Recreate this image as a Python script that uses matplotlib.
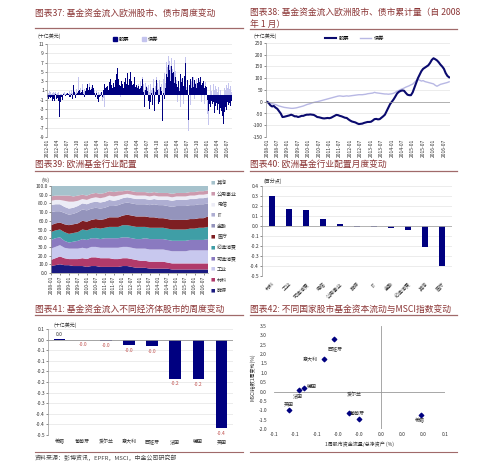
import numpy as np
import matplotlib
matplotlib.use("Agg")
import matplotlib.pyplot as plt
from matplotlib.lines import Line2D
from matplotlib.patches import Patch

plt.rcParams['font.family'] = ['Noto Sans CJK SC', 'DejaVu Sans']
plt.rcParams['axes.unicode_minus'] = False

# ---------- 图表37: 周度资金流 (十亿美元), 2012-01 起每周 ----------
stock_week = [
    -0.5, -0.8, -0.3, -1.0, -0.6, -0.4, -1.2, -0.8, -0.5, -1.3, 0.3, -0.9, -1.1,
    -0.7, -1.2, -4.6, 2.8, -1.5, -0.3, -1.0, 0.2, -0.5, 0.1, -0.2, 0.3, -0.6,
    0.4, 0.2, -0.3, 0.4, -0.5, 0.3, -0.8, -1.0, 2.1, 0.6, -0.6, 0.2, 1.2,
    0.5, 0.8, 1.0, -1.3, 0.4, 0.6, 1.1, 0.7, 0.3, -0.4, 0.9, 1.5, 0.6,
    2.3, 1.2, 1.8, 2.5, 1.0, 1.4, 2.2, 0.8, 1.6, 0.4, -0.3, 0.5, -0.6,
    -0.8, -1.5, -0.4, 0.3, -0.2, 0.6, -0.5, 0.4, 1.2, 2.3, 1.5, 2.6, 1.8,
    2.0, 1.2, 2.8, 1.6, 3.4, 2.1, 1.5, 4.0, 2.6, 1.8, 3.2, 2.4, 4.5,
    5.8, 3.5, 2.2, 4.6, 1.9, 3.1, 2.4, 4.2, 1.5, 2.8, 3.6, 1.2, 2.5,
    4.8, 2.2, 3.5, 1.4, 4.9, 3.0, 2.1, 1.6, 2.5, 3.8, 1.8, 1.2, 2.2,
    1.5, 2.0, 1.3, 2.4, 1.6, 1.9, 3.5, 1.0, 0.6, -2.5, 1.2, -0.4, 1.8,
    0.8, -1.2, -0.6, -3.0, -1.5, 0.5, -2.2, -1.0, 1.6, -3.5, 0.6, -6.3, 3.2,
    1.2, -2.0, 0.4, -1.5, 1.8, 0.8, -5.5, 1.5, 0.5, -0.8, 1.6, 2.8, 4.5,
    3.8, 6.5, 4.2, 5.5, 3.0, 6.2, 4.8, 3.5, 5.0, 2.6, 4.0, 3.2, 2.4,
    1.8, 3.0, 2.2, 0.8, 4.5, 2.8, 1.5, 3.6, 2.0, 4.2, 7.0, 2.5, 1.2,
    3.2, -5.3, 4.6, 2.2, 3.5, 1.6, 2.8, 4.0, 1.8, 3.3, 2.4, 3.9, 1.5,
    2.6, 3.6, 1.9, 2.9, 3.8, 2.2, 1.4, 2.7, 3.1, 1.6, 2.0, 0.9, 1.8,
    -1.0, -3.5, 1.2, -1.8, -2.6, -1.2, -0.8, -2.0, -1.5, -3.8, -1.0, -2.4, -1.7,
    -3.2, -2.0, -1.2, -4.0, -2.8, -3.5, -5.2, -4.4, -6.2, -3.6, -4.8, -2.5, -3.2,
    -1.5, -2.2, -0.8, -1.6, -2.4, -1.2,
]
bond_week = [
    0.3, 0.5, 0.8, 0.4, 0.6, 0.2, 0.5, 0.7, 0.3, 0.4, 0.6, 0.2, 0.5,
    0.4, 0.6, -0.3, 0.5, 0.3, 0.2, -0.4, 0.5, 0.3, 0.6, 0.2, 0.4, 0.7,
    0.5, 0.3, 0.8, 0.6, 0.4, 1.0, 0.5, 0.3, 1.2, 0.8, 0.5, 1.4, 0.9,
    0.6, 4.0, 1.2, 0.8, 1.5, 0.6, 2.5, 1.0, 0.7, 1.3, 0.5, 0.9, 2.0,
    1.5, 0.8, 2.6, 1.2, 0.6, 1.8, 0.9, 1.4, 0.5, 1.0, 0.3, 0.8, 0.4,
    -0.5, 0.6, 0.3, -0.8, 0.4, 0.2, -1.2, 0.5, -0.6, -2.5, 0.4, 0.8, 0.3,
    0.6, 0.4, 0.9, 0.5, 1.2, 0.7, 0.3, 1.0, 0.5, 0.8, 0.6, 1.1, 0.4,
    0.7, 0.5, 0.3, 0.9, -0.4, 0.6, 0.8, 0.4, 0.5, 0.7, 0.3, 0.9, 0.6,
    0.8, 0.5, 1.2, 0.7, 0.9, 1.4, 0.6, 1.0, 0.8, 1.5, 1.1, 0.7, 2.2,
    1.8, 2.4, 1.2, 2.0, 3.0, 1.5, 3.8, 1.6, 2.5, 1.2, 2.6, 1.4, 2.0,
    1.5, 2.2, 1.8, 0.6, 2.4, 1.0, 1.6, 2.8, 3.5, 0.8, 2.0, 1.2, 3.8,
    2.6, 1.4, 2.0, 3.2, 1.6, 2.4, -1.5, 2.0, 3.5, 4.8, 2.6, 5.5, 7.2,
    6.0, 8.5, 9.8, 7.4, 6.2, 8.0, 5.6, 6.8, 4.5, 7.6, 5.2, 4.0, 3.2,
    -1.5, 2.0, -3.0, 1.5, -2.5, 3.5, -4.0, 2.2, -2.0, 1.2, 8.2, -3.2, 1.8,
    2.5, -7.8, -3.5, 1.0, -2.2, 3.0, -1.5, 2.0, 4.0, -0.8, 2.6, 1.2, 3.4,
    1.8, 2.5, -0.6, 3.2, 1.4, -1.5, 2.2, 0.8, 1.6, -2.0, 2.8, 1.2, 0.6,
    -4.0, -6.5, 1.5, -2.0, 2.2, 0.8, 1.6, -1.0, 2.5, 1.2, -0.8, 2.0, 1.4,
    0.6, 1.8, 2.4, -2.2, 1.2, -3.0, -7.0, -4.5, -2.0, 1.5, 2.5, 1.0, 2.2,
    1.6, 2.6, 0.8, 1.4, 2.0, 0.6,
]
week_ticks = ['2012-01', '2012-04', '2012-07', '2012-10', '2013-01', '2013-04', '2013-07',
              '2013-10', '2014-01', '2014-04', '2014-07', '2014-10', '2015-01', '2015-04',
              '2015-07', '2015-10', '2016-01', '2016-04', '2016-07']

# ---------- 图表38: 累计量 (十亿美元), 2008-01 起每月 ----------
stock_cum = [
    0, -5, -15, -20, -18, -25, -30, -40, -50, -65, -64, -62,
    -60, -58, -55, -58, -62, -62, -65, -63, -60, -60, -57, -55,
    -55, -54, -55, -56, -60, -65, -66, -68, -70, -71, -70, -69,
    -70, -68, -64, -60, -56, -57, -60, -62, -65, -68, -69, -75,
    -80, -84, -86, -88, -92, -95, -94, -93, -90, -88, -86, -86,
    -85, -80, -74, -73, -75, -74, -68, -62, -55, -40, -25, -10,
    0, 10, 22, 35, 42, 46, 48, 47, 38, 30, 28, 28,
    40, 60, 80, 100, 115, 130, 140, 145, 150, 155, 165, 178,
    185, 181, 176, 168, 158, 150, 140, 122, 110, 104,
]
bond_cum = [
    0, -2, -5, -8, -10, -12, -15, -18, -20, -22, -24, -25,
    -26, -27, -28, -28, -27, -26, -24, -22, -20, -18, -15, -12,
    -10, -8, -5, -3, -1, 0, 2, 4, 6, 8, 10, 12,
    14, 16, 18, 20, 22, 24, 25, 24, 23, 24, 25, 24,
    25, 26, 27, 28, 29, 30, 30, 30, 31, 32, 34, 35,
    36, 37, 40, 38, 37, 36, 35, 34, 33, 33, 32, 33,
    34, 36, 40, 45, 48, 52, 55, 58, 62, 65, 68, 72,
    75, 82, 90, 95, 92, 88, 90, 86, 84, 82, 80, 78,
    76, 70, 66, 70, 74, 76, 78, 80, 82, 85,
]
month_ticks = ['2008-01', '2008-07', '2009-01', '2009-07', '2010-01', '2010-07', '2011-01',
               '2011-07', '2012-01', '2012-07', '2013-01', '2013-07', '2014-01', '2014-07',
               '2015-01', '2015-07', '2016-01', '2016-07']

# ---------- 图表39: 行业配置 (%), 每季度 ----------
sectors = ['能源', '材料', '工业', '可选消费', '必选消费', '医疗', '金融', 'IT', '电信', '公用事业', '其他']
energy = [8, 9, 10, 9, 9, 8, 8, 8, 7, 8, 8, 7, 7, 7, 7, 7, 8, 8, 7, 6, 6, 6, 5, 5, 5, 5, 5, 4, 4, 4, 4, 4, 4, 4, 4, 4]
materials = [7, 8, 9, 8, 7, 8, 8, 9, 9, 10, 10, 10, 10, 10, 9, 9, 9, 9, 9, 9, 8, 8, 8, 8, 8, 8, 7, 7, 7, 7, 7, 7, 7, 7, 7, 7]
industrials = [13, 13, 13, 12, 12, 12, 12, 12, 12, 12, 12, 12, 12, 12, 13, 13, 13, 13, 13, 13, 14, 14, 14, 14, 14, 14, 14, 14, 14, 14, 14, 15, 15, 15, 15, 15]
cons_disc = [10, 10, 9, 8, 7, 8, 9, 10, 10, 10, 10, 10, 11, 11, 11, 11, 11, 11, 11, 11, 11, 12, 12, 12, 12, 12, 12, 12, 12, 12, 12, 12, 12, 12, 12, 13]
cons_staples = [9, 9, 9, 10, 10, 10, 10, 11, 11, 11, 12, 12, 12, 13, 13, 13, 14, 14, 14, 14, 14, 13, 13, 13, 13, 13, 13, 13, 13, 13, 13, 13, 13, 14, 14, 14]
health = [8, 8, 8, 9, 10, 10, 10, 10, 10, 10, 10, 10, 10, 11, 11, 11, 11, 12, 12, 12, 12, 12, 12, 12, 11, 11, 11, 11, 11, 11, 11, 11, 11, 11, 11, 12]
financials = [15, 14, 13, 13, 12, 12, 13, 13, 13, 13, 13, 13, 13, 13, 13, 14, 14, 14, 14, 14, 14, 14, 14, 15, 15, 15, 15, 15, 16, 16, 16, 16, 16, 16, 16, 15]
info_tech = [8, 8, 8, 7, 7, 7, 7, 7, 7, 7, 7, 7, 7, 7, 6, 6, 6, 6, 6, 6, 6, 6, 6, 6, 6, 6, 7, 7, 7, 7, 7, 7, 7, 7, 7, 7]
telecom = [5, 5, 5, 7, 8, 7, 6, 5, 5, 5, 5, 5, 5, 5, 5, 5, 4, 4, 4, 4, 4, 4, 4, 4, 4, 4, 4, 4, 4, 4, 4, 4, 4, 4, 4, 4]
utilities = [5, 5, 5, 6, 7, 6, 6, 5, 5, 5, 5, 5, 5, 5, 5, 5, 4, 4, 4, 4, 4, 4, 4, 4, 4, 4, 4, 4, 4, 4, 4, 4, 4, 4, 4, 4]
sector_colors = ['#1a1a80', '#b03a6a', '#c8c8ee', '#8a7ac0', '#3f9ea6', '#7e1e22',
                 '#9494bc', '#aeaed2', '#ececf6', '#cc9aae', '#a6c2cc']

# ---------- 图表40: 行业配置月度变动 (百分点) ----------
chg_cats = ['材料', '工业', '可选消费', '电信', '公用事业', '能源', 'IT', '金融', '必选消费', '其他', '医疗']
chg_vals = [0.30, 0.17, 0.155, 0.07, 0.02, -0.01, -0.015, -0.02, -0.045, -0.215, -0.40]

# ---------- 图表41: 不同经济体周度变动 (十亿美元) ----------
ctry = ['希腊', '葡萄牙', '爱尔兰', '意大利', '西班牙', '法国', '德国', '英国']
ctry_flow = [0.001, -0.001, -0.005, -0.027, -0.031, -0.184, -0.186, -0.417]
ctry_text = ['0.0', '-0.0', '-0.0', '-0.0', '-0.0', '-0.2', '-0.2', '-0.4']

# ---------- 图表42: 资金流量/总净资产 vs MSCI 1周变动 ----------
sc_names = ['西班牙', '意大利', '德国', '法国', '英国', '葡萄牙', '爱尔兰', '希腊']
sc_x = [-0.0443, -0.0536, -0.0722, -0.0769, -0.0862, -0.0295, -0.0208, 0.0372]
sc_y = [2.82, 1.76, 0.21, 0.07, -0.99, -1.17, -1.45, -1.26]

NAVY = '#000080'
LIGHT = '#c4c4ee'
NEG = '#c0504d'
TITLE = '#8b3535'
RULE = '#a06a6a'
GRID = '#dddddd'
TS = 3.6

W, H = 500, 469
fig = plt.figure(figsize=(5, 4.69), dpi=100)


def px_axes(x0, y0, x1, y1):
    return fig.add_axes([x0 / W, 1 - y1 / H, (x1 - x0) / W, (y1 - y0) / H])


def title(x, y, s):
    fig.text(x / W, 1 - y / H, s, fontsize=6.3, color=TITLE, style='italic', va='center', ha='left')


def rule(x0, x1, y, lw=0.9):
    fig.add_artist(Line2D([x0 / W, x1 / W], [1 - y / H, 1 - y / H], color=RULE, lw=lw))


def ftext(x, y, s, **kw):
    kw.setdefault('fontsize', TS)
    kw.setdefault('color', '#333333')
    fig.text(x / W, 1 - y / H, s, va='center', **kw)


def style(ax, grid=True):
    ax.tick_params(labelsize=TS, length=1.2, width=0.4, pad=1, colors='#333333')
    for s in ['top', 'right']:
        ax.spines[s].set_visible(False)
    for s in ['left', 'bottom']:
        ax.spines[s].set_color('#999999')
        ax.spines[s].set_linewidth(0.5)
    if grid:
        ax.yaxis.grid(True, color=GRID, lw=0.4)
        ax.set_axisbelow(True)


def yticks(ax, vals, labels):
    ax.set_yticks(vals)
    labs = ax.set_yticklabels(labels)
    for lab, v in zip(labs, vals):
        if v < 0:
            lab.set_color(NEG)


# ---- 图表37 ----
title(35, 13, '图表37: 基金资金流入欧洲股市、债市周度变动')
rule(35, 243, 28)
ax = px_axes(47, 44, 232, 137)
wk = np.arange(len(stock_week))
ax.bar(wk, bond_week, width=1.0, color=LIGHT, linewidth=0)
ax.bar(wk, stock_week, width=1.0, color=NAVY, linewidth=0)
ax.set_xlim(-1, len(wk))
ax.set_ylim(-9, 11)
yt = list(range(-9, 12, 2))
yticks(ax, yt, [str(v) for v in yt])
ax.set_xticks(np.arange(0, len(wk), 13)[:len(week_ticks)])
ax.set_xticklabels(week_ticks, rotation=90)
style(ax)
ax.spines['bottom'].set_visible(False)
ax.tick_params(axis='x', length=0)
ax.legend(handles=[Patch(color=NAVY, label='股票'), Patch(color=LIGHT, label='债券')],
          ncol=2, loc='lower center', bbox_to_anchor=(0.48, 0.97), fontsize=3.8, frameon=False,
          handlelength=0.7, handleheight=0.7, columnspacing=2.5, handletextpad=0.3)
ftext(37, 36, '(十亿美元)')

# ---- 图表38 ----
title(250, 12, '图表38: 基金资金流入欧洲股市、债市累计量（自 2008')
title(250, 24, '年 1 月）')
rule(250, 457, 29)
ax = px_axes(266, 43, 450, 137)
mo = np.arange(len(stock_cum))
ax.plot(mo, bond_cum, color='#b8b8e4', lw=1.0)
ax.plot(mo, stock_cum, color='#0a0a6e', lw=1.5)
ax.set_xlim(-0.5, len(mo) - 0.5)
ax.set_ylim(-150, 250)
yt = list(range(-150, 251, 50))
yticks(ax, yt, [str(v) for v in yt])
ax.set_xticks(np.arange(0, len(mo), 6)[:len(month_ticks)])
ax.set_xticklabels(month_ticks, rotation=90)
style(ax)
ax.spines['bottom'].set_visible(False)
ax.axhline(0, color='#999999', lw=0.5)
ax.tick_params(axis='x', length=0)
ax.legend(handles=[Line2D([], [], color='#0a0a6e', lw=1.5, label='股票'),
                   Line2D([], [], color='#b8b8e4', lw=1.0, label='债券')],
          ncol=2, loc='lower center', bbox_to_anchor=(0.48, 0.97), fontsize=3.8, frameon=False,
          handlelength=2.2, columnspacing=2.0, handletextpad=0.4)
ftext(253, 36, '(十亿美元)')

# ---- 图表39 ----
title(35, 164, '图表39: 欧洲基金行业配置')
rule(35, 243, 171)
ax = px_axes(51, 186, 208, 273)
qx = np.arange(len(energy)) * 3
parts = [energy, materials, industrials, cons_disc, cons_staples, health,
         financials, info_tech, telecom, utilities]
other = 100 - np.sum(np.array(parts), axis=0)
ax.stackplot(qx, *parts, other, colors=sector_colors, linewidth=0)
ax.set_xlim(0, qx[-1])
ax.set_ylim(0, 100)
yt = list(range(0, 101, 10))
yticks(ax, yt, ['%.1f' % v for v in yt])
ax.set_xticks(np.arange(0, 103, 6))
ax.set_xticklabels(month_ticks, rotation=90)
style(ax, grid=False)
ftext(42, 180, '(%)')
for i, (name, c) in enumerate(zip(sectors[::-1], sector_colors[::-1])):
    y = 183 + i * 10.8
    ftext(211, y, '■', color=c, fontsize=3.2)
    ftext(217, y, name)

# ---- 图表40 ----
title(250, 164, '图表40: 欧洲基金行业配置月度变动')
rule(250, 457, 171)
ax = px_axes(262, 186, 452, 276)
xc = np.arange(len(chg_cats))
ax.bar(xc, chg_vals, width=0.38, color=NAVY)
ax.set_xlim(-0.6, len(xc) - 0.4)
ax.set_ylim(-0.5, 0.4)
yt = [0.4, 0.3, 0.2, 0.1, 0.0, -0.1, -0.2, -0.3, -0.4, -0.5]
yticks(ax, yt, ['%.1f' % v for v in yt])
ax.set_xticks(xc)
ax.set_xticklabels(chg_cats, rotation=45, ha='right', rotation_mode='anchor')
style(ax)
ax.spines['bottom'].set_visible(False)
ax.axhline(0, color='#aaaaaa', lw=0.6)
ax.tick_params(axis='x', length=0, pad=4)
ftext(263, 181, '(百分点)')

# ---- 图表41 ----
title(35, 309, '图表41: 基金资金流入不同经济体股市的周度变动')
rule(35, 243, 315)
ax = px_axes(48, 329, 233, 435)
xc = np.arange(len(ctry))
ax.bar(xc, ctry_flow, width=0.5, color=NAVY)
for x, v, t in zip(xc, ctry_flow, ctry_text):
    if v >= 0:
        ax.text(x, v + 0.012, t, ha='center', va='bottom', fontsize=TS, color='#333333')
    else:
        ax.text(x, v - 0.012, t, ha='center', va='top', fontsize=TS, color=NEG)
ax.set_xlim(-0.5, len(xc) - 0.5)
ax.set_ylim(-0.45, 0.05)
yt = [0.05, 0.0, -0.05, -0.1, -0.15, -0.2, -0.25, -0.3, -0.35, -0.4, -0.45]
yticks(ax, yt, ['0.1', '0.0', '-0.1', '-0.1', '-0.2', '-0.2', '-0.3', '-0.3', '-0.4', '-0.4', '-0.5'])
ax.set_xticks(xc)
ax.set_xticklabels(ctry)
style(ax)
ax.spines['bottom'].set_visible(False)
ax.axhline(0, color='#999999', lw=0.6)
ax.tick_params(axis='x', length=0, pad=3)
ftext(53, 325, '(十亿美元)')
rule(35, 243, 452, lw=0.8)
ftext(35, 458, '资料来源：彭博资讯，EPFR，MSCI，中金公司研究部', fontsize=4.3, style='italic', color='#444444')

# ---- 图表42 ----
title(250, 309, '图表42: 不同国家股市基金资本流动与MSCI指数变动')
rule(250, 457, 315)
ax = px_axes(274, 326, 445, 429)
ax.scatter(sc_x, sc_y, marker='D', s=5, color=NAVY, zorder=3)
offsets = {'西班牙': (0.002, -0.55), '意大利': (-0.013, -0.05), '德国': (0.008, 0.05),
           '法国': (-0.001, -0.3), '英国': (0.0, 0.3), '葡萄牙': (0.007, 0.0),
           '爱尔兰': (-0.0045, 1.25), '希腊': (-0.001, -0.3)}
for n, x, y in zip(sc_names, sc_x, sc_y):
    dx, dy = offsets[n]
    ax.text(x + dx, y + dy, n, ha='center', va='center', fontsize=TS, color='#333333')
ax.set_xlim(-0.1, 0.06)
ax.set_ylim(-2.0, 3.5)
ax.axvline(0, color='#999999', lw=0.6)
ax.axhline(0, color='#999999', lw=0.6)
yt = [3.5, 3.0, 2.5, 2.0, 1.5, 1.0, 0.5, 0.0, -0.5, -1.0, -1.5, -2.0]
yticks(ax, yt, ['%.1f' % v for v in yt])
xt = [-0.1, -0.08, -0.06, -0.04, -0.02, 0.0, 0.02, 0.04, 0.06]
ax.set_xticks(xt)
labs = ax.set_xticklabels(['-0.1', '-0.1', '-0.1', '-0.0', '-0.0', '0.0', '0.0', '0.0', '0.1'])
for lab, v in zip(labs, xt):
    if v < 0:
        lab.set_color(NEG)
style(ax, grid=False)
ax.spines['left'].set_visible(False)
ax.spines['bottom'].set_visible(False)
ax.tick_params(length=0)
ax.tick_params(axis='y', pad=5)
ax.tick_params(axis='x', pad=2.5)
ax.set_ylabel('MSCI指数1周变动(%)', fontsize=TS, labelpad=2, color='#333333')
ax.set_xlabel('1周股市资金流量/总净资产 (%)', fontsize=TS, labelpad=3, color='#333333')
rule(250, 457, 452, lw=0.8)

fig.savefig('out.png', dpi=100, facecolor='white')
